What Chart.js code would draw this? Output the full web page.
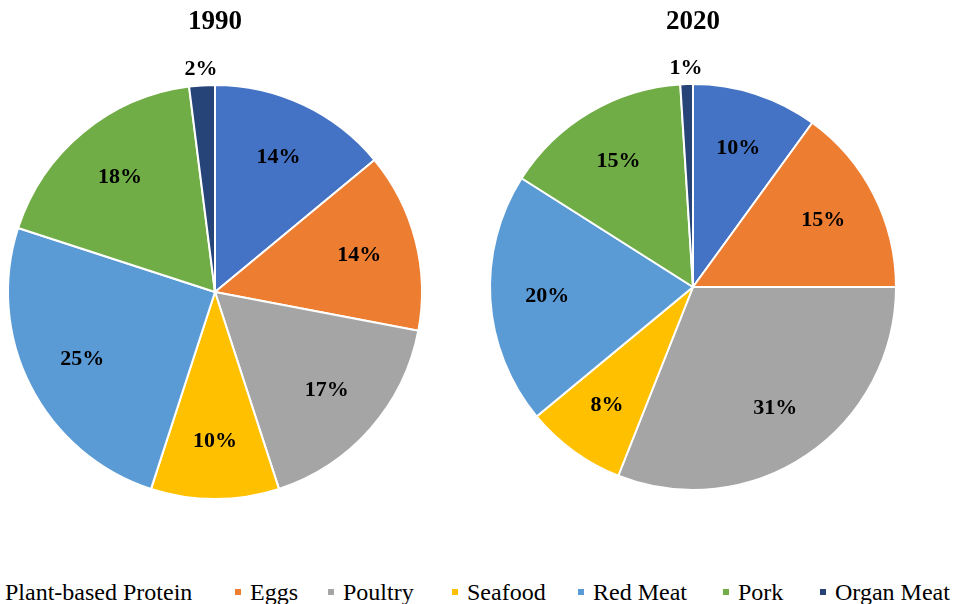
<!DOCTYPE html>
<html>
<head>
<meta charset="utf-8">
<script src="https://cdn.jsdelivr.net/npm/chart.js@4.4.1/dist/chart.umd.min.js"></script>
<style>
    html, body { margin: 0; padding: 0; background: #fff; overflow: hidden; }
    body { width: 955px; height: 604px; position: relative; }
    .pie { position: absolute; top: 0; width: 430px; height: 520px; }
    #legend {
        position: absolute; top: 580px; left: 0; width: 955px; height: 24px;
        font-family: "Liberation Serif", "Times New Roman", serif;
        font-size: 24px; line-height: 24px; color: #000;
    }
    #legend .item { position: absolute; top: 0; display: flex; align-items: center; white-space: nowrap; }
    #legend .box { width: 6px; height: 6px; margin-right: 9px; }
</style>
</head>
<body>
<div class="pie" style="left:0px"><canvas id="pie1990"></canvas></div>
<div class="pie" style="left:478px"><canvas id="pie2020"></canvas></div>
<div id="legend"></div>

<script>
// protein sources, share of total (%)
const categories = ['Plant-based Protein', 'Eggs', 'Poultry', 'Seafood', 'Red Meat', 'Pork', 'Organ Meat'];
const share1990 = [14, 14, 17, 10, 25, 18, 2];
const share2020 = [10, 15, 31, 8, 20, 15, 1];
const colors = ['#4472C4', '#ED7D31', '#A5A5A5', '#FFC000', '#5B9BD5', '#70AD47', '#264478'];

// left edge of each legend entry (the first one runs off the page edge)
const legendLeft = [-10, 235, 328, 452, 578, 723, 820];

// percent labels: inside the slice, or just outside for very thin ones
const pctLabels = {
    id: 'pctLabels',
    afterDatasetsDraw(chart) {
        const ctx = chart.ctx;
        const meta = chart.getDatasetMeta(0);
        const values = chart.data.datasets[0].data;
        ctx.save();
        ctx.font = 'bold 22px "Liberation Serif", "Times New Roman", serif';
        ctx.fillStyle = '#000';
        ctx.textAlign = 'center';
        ctx.textBaseline = 'middle';
        meta.data.forEach((arc, i) => {
            const p = arc.getProps(['x', 'y', 'startAngle', 'endAngle', 'outerRadius'], true);
            const mid = (p.startAngle + p.endAngle) / 2;
            const r = values[i] < 3 ? p.outerRadius + 16 : p.outerRadius * 0.72;
            ctx.fillText(values[i] + '%', p.x + Math.cos(mid) * r, p.y + Math.sin(mid) * r);
        });
        ctx.restore();
    }
};

function makePie(id, title, values, pad) {
    return new Chart(document.getElementById(id), {
        type: 'pie',
        data: {
            labels: categories,
            datasets: [{
                data: values,
                backgroundColor: colors,
                borderColor: '#fff',
                borderWidth: 2
            }]
        },
        options: {
            responsive: true,
            maintainAspectRatio: false,
            animation: false,
            layout: { padding: pad },
            plugins: {
                legend: { display: false },
                tooltip: { enabled: false },
                title: {
                    display: true,
                    text: title,
                    color: '#000',
                    font: { family: '"Liberation Serif", "Times New Roman", serif', size: 27, weight: 'bold' },
                    padding: { top: 6, bottom: pad.titleGap }
                }
            }
        },
        plugins: [pctLabels]
    });
}

makePie('pie1990', '1990', share1990, { top: 0, left: 7, right: 7, bottom: 20, titleGap: 45.6 });
makePie('pie2020', '2020', share2020, { top: 0, left: 11, right: 11, bottom: 29, titleGap: 44.6 });

// shared legend under both pies
const legend = document.getElementById('legend');
categories.forEach((name, i) => {
    const item = document.createElement('div');
    item.className = 'item';
    item.style.left = legendLeft[i] + 'px';
    const box = document.createElement('span');
    box.className = 'box';
    box.style.background = colors[i];
    item.appendChild(box);
    item.appendChild(document.createTextNode(name));
    legend.appendChild(item);
});
</script>
</body>
</html>
